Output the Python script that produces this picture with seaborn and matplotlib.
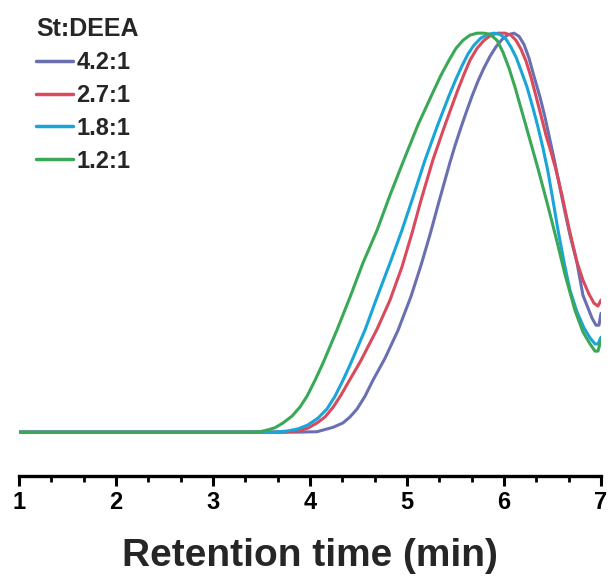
import numpy as np
import pandas as pd
import matplotlib
matplotlib.use("Agg")
import matplotlib.pyplot as plt
import seaborn as sns
from matplotlib.ticker import MultipleLocator

# ---- data (retention time in min, normalised signal) ----
labels = ["4.2:1", "2.7:1", "1.8:1", "1.2:1"]
colors = ["#6a6fb2", "#d94a5c", "#1aa5d8", "#3aa857"]

t_42 = [1.000, 3.897, 4.072, 4.237, 4.340, 4.412, 4.485, 4.567, 4.649, 4.773, 4.907,
        5.041, 5.144, 5.237, 5.330, 5.392, 5.443, 5.495, 5.557, 5.608, 5.670, 5.732,
        5.794, 5.856, 5.918, 5.979, 6.041, 6.103, 6.155, 6.206, 6.258, 6.309, 6.371,
        6.423, 6.474, 6.526, 6.577, 6.629, 6.680, 6.753, 6.814, 6.866, 6.907, 6.948,
        6.979, 7.000]
s_42 = [0.000, 0.000, 0.001, 0.012, 0.023, 0.038, 0.058, 0.090, 0.130, 0.185, 0.255,
        0.340, 0.418, 0.495, 0.578, 0.632, 0.676, 0.718, 0.764, 0.800, 0.842, 0.880,
        0.913, 0.942, 0.966, 0.984, 0.996, 1.000, 0.992, 0.972, 0.937, 0.892, 0.840,
        0.789, 0.732, 0.674, 0.612, 0.551, 0.494, 0.424, 0.343, 0.311, 0.286, 0.268,
        0.268, 0.298]

t_27 = [1.000, 3.742, 3.876, 3.979, 4.072, 4.155, 4.237, 4.320, 4.412, 4.515, 4.691,
        4.825, 4.948, 5.052, 5.144, 5.268, 5.392, 5.515, 5.588, 5.649, 5.722, 5.794,
        5.866, 5.938, 6.010, 6.072, 6.124, 6.175, 6.227, 6.278, 6.330, 6.381, 6.433,
        6.485, 6.536, 6.598, 6.670, 6.753, 6.814, 6.876, 6.928, 6.969, 7.000]
s_27 = [0.000, 0.000, 0.003, 0.010, 0.023, 0.038, 0.062, 0.093, 0.132, 0.175, 0.258,
        0.331, 0.414, 0.499, 0.581, 0.683, 0.770, 0.852, 0.897, 0.932, 0.962, 0.982,
        0.995, 1.000, 1.000, 0.995, 0.982, 0.960, 0.930, 0.890, 0.842, 0.794, 0.744,
        0.702, 0.657, 0.594, 0.511, 0.426, 0.381, 0.346, 0.323, 0.316, 0.331]

t_18 = [1.000, 3.639, 3.773, 3.876, 3.979, 4.082, 4.175, 4.258, 4.340, 4.412, 4.567,
        4.691, 4.825, 4.948, 5.062, 5.186, 5.320, 5.433, 5.505, 5.567, 5.629, 5.691,
        5.763, 5.835, 5.897, 5.959, 6.021, 6.072, 6.124, 6.175, 6.237, 6.299, 6.351,
        6.402, 6.454, 6.505, 6.557, 6.619, 6.680, 6.753, 6.825, 6.887, 6.938, 6.969,
        7.000]
s_18 = [0.000, 0.000, 0.003, 0.008, 0.018, 0.035, 0.058, 0.090, 0.130, 0.168, 0.256,
        0.338, 0.424, 0.506, 0.589, 0.682, 0.772, 0.843, 0.885, 0.918, 0.948, 0.970,
        0.988, 0.997, 1.000, 0.997, 0.985, 0.965, 0.940, 0.907, 0.865, 0.812, 0.764,
        0.712, 0.652, 0.581, 0.506, 0.426, 0.356, 0.301, 0.261, 0.236, 0.221, 0.221,
        0.238]

t_12 = [1.000, 3.381, 3.485, 3.557, 3.639, 3.722, 3.814, 3.897, 3.969, 4.052, 4.134,
        4.278, 4.412, 4.546, 4.691, 4.825, 4.959, 5.113, 5.268, 5.351, 5.433, 5.505,
        5.577, 5.649, 5.722, 5.794, 5.856, 5.928, 5.990, 6.052, 6.113, 6.175, 6.247,
        6.351, 6.454, 6.546, 6.629, 6.732, 6.814, 6.887, 6.938, 6.969, 7.000]
s_12 = [0.000, 0.000, 0.001, 0.005, 0.011, 0.023, 0.040, 0.063, 0.090, 0.130, 0.173,
        0.256, 0.338, 0.424, 0.506, 0.594, 0.677, 0.770, 0.852, 0.895, 0.932, 0.962,
        0.982, 0.995, 1.000, 1.000, 0.997, 0.982, 0.952, 0.912, 0.865, 0.812, 0.750,
        0.660, 0.566, 0.478, 0.395, 0.305, 0.251, 0.221, 0.203, 0.203, 0.231]

x_ticks = [1, 2, 3, 4, 5, 6, 7]
x_label = "Retention time (min)"
legend_title = "St:DEEA"

# ---- long-form table ----
frames = []
for lab, t, s in zip(labels, [t_42, t_27, t_18, t_12], [s_42, s_27, s_18, s_12]):
    frames.append(pd.DataFrame({"time": t, "signal": s, "ratio": lab}))
df = pd.concat(frames, ignore_index=True)

sns.set_theme(style="white")
plt.rcParams["font.family"] = ["Liberation Sans", "DejaVu Sans"]
plt.rcParams["font.weight"] = "bold"

W, H = 610, 581
fig = plt.figure(figsize=(W / 100, H / 100), dpi=100)
ax = fig.add_axes([19 / W, (H - 476) / H, 582 / W, (476 - 20) / H])

sns.lineplot(data=df, x="time", y="signal", hue="ratio", hue_order=labels,
             palette=dict(zip(labels, colors)), sort=False, estimator=None,
             linewidth=2.2, ax=ax)
for ln in ax.get_lines():
    ln.set_solid_joinstyle("round")
    ln.set_solid_capstyle("round")

ax.set_xlim(1, 7)
ax.set_ylim(-0.11, 1.033)
ax.set_xticks(x_ticks)
ax.set_xticklabels([str(v) for v in x_ticks], fontsize=17, fontweight="bold")
ax.xaxis.set_minor_locator(MultipleLocator(1 / 3))
ax.tick_params(axis="x", which="major", direction="out", length=7, width=2.2,
               bottom=True, pad=4, colors="black")
ax.tick_params(axis="x", which="minor", direction="out", length=4, width=2.0,
               bottom=True, colors="black")
ax.set_yticks([])
ax.set_ylabel("")
ax.set_xlabel(x_label, fontsize=28, fontweight="bold", labelpad=17)
for side in ["top", "right", "left"]:
    ax.spines[side].set_visible(False)
ax.spines["bottom"].set_linewidth(2.4)
ax.spines["bottom"].set_color("black")

handles, hl = ax.get_legend_handles_labels()
leg = ax.legend(handles, hl, title=legend_title, loc="upper left",
                bbox_to_anchor=(36 / W, 1 - 17 / H), bbox_transform=fig.transFigure,
                frameon=False, fontsize=17, title_fontsize=18, alignment="left",
                handlelength=1.55, handletextpad=0.15, labelspacing=0.42,
                borderpad=0, borderaxespad=0)
leg.get_title().set_fontweight("bold")
for txt in leg.get_texts():
    txt.set_fontweight("bold")
for ln in leg.get_lines():
    ln.set_linewidth(2.5)

fig.savefig("out.png", dpi=100)
